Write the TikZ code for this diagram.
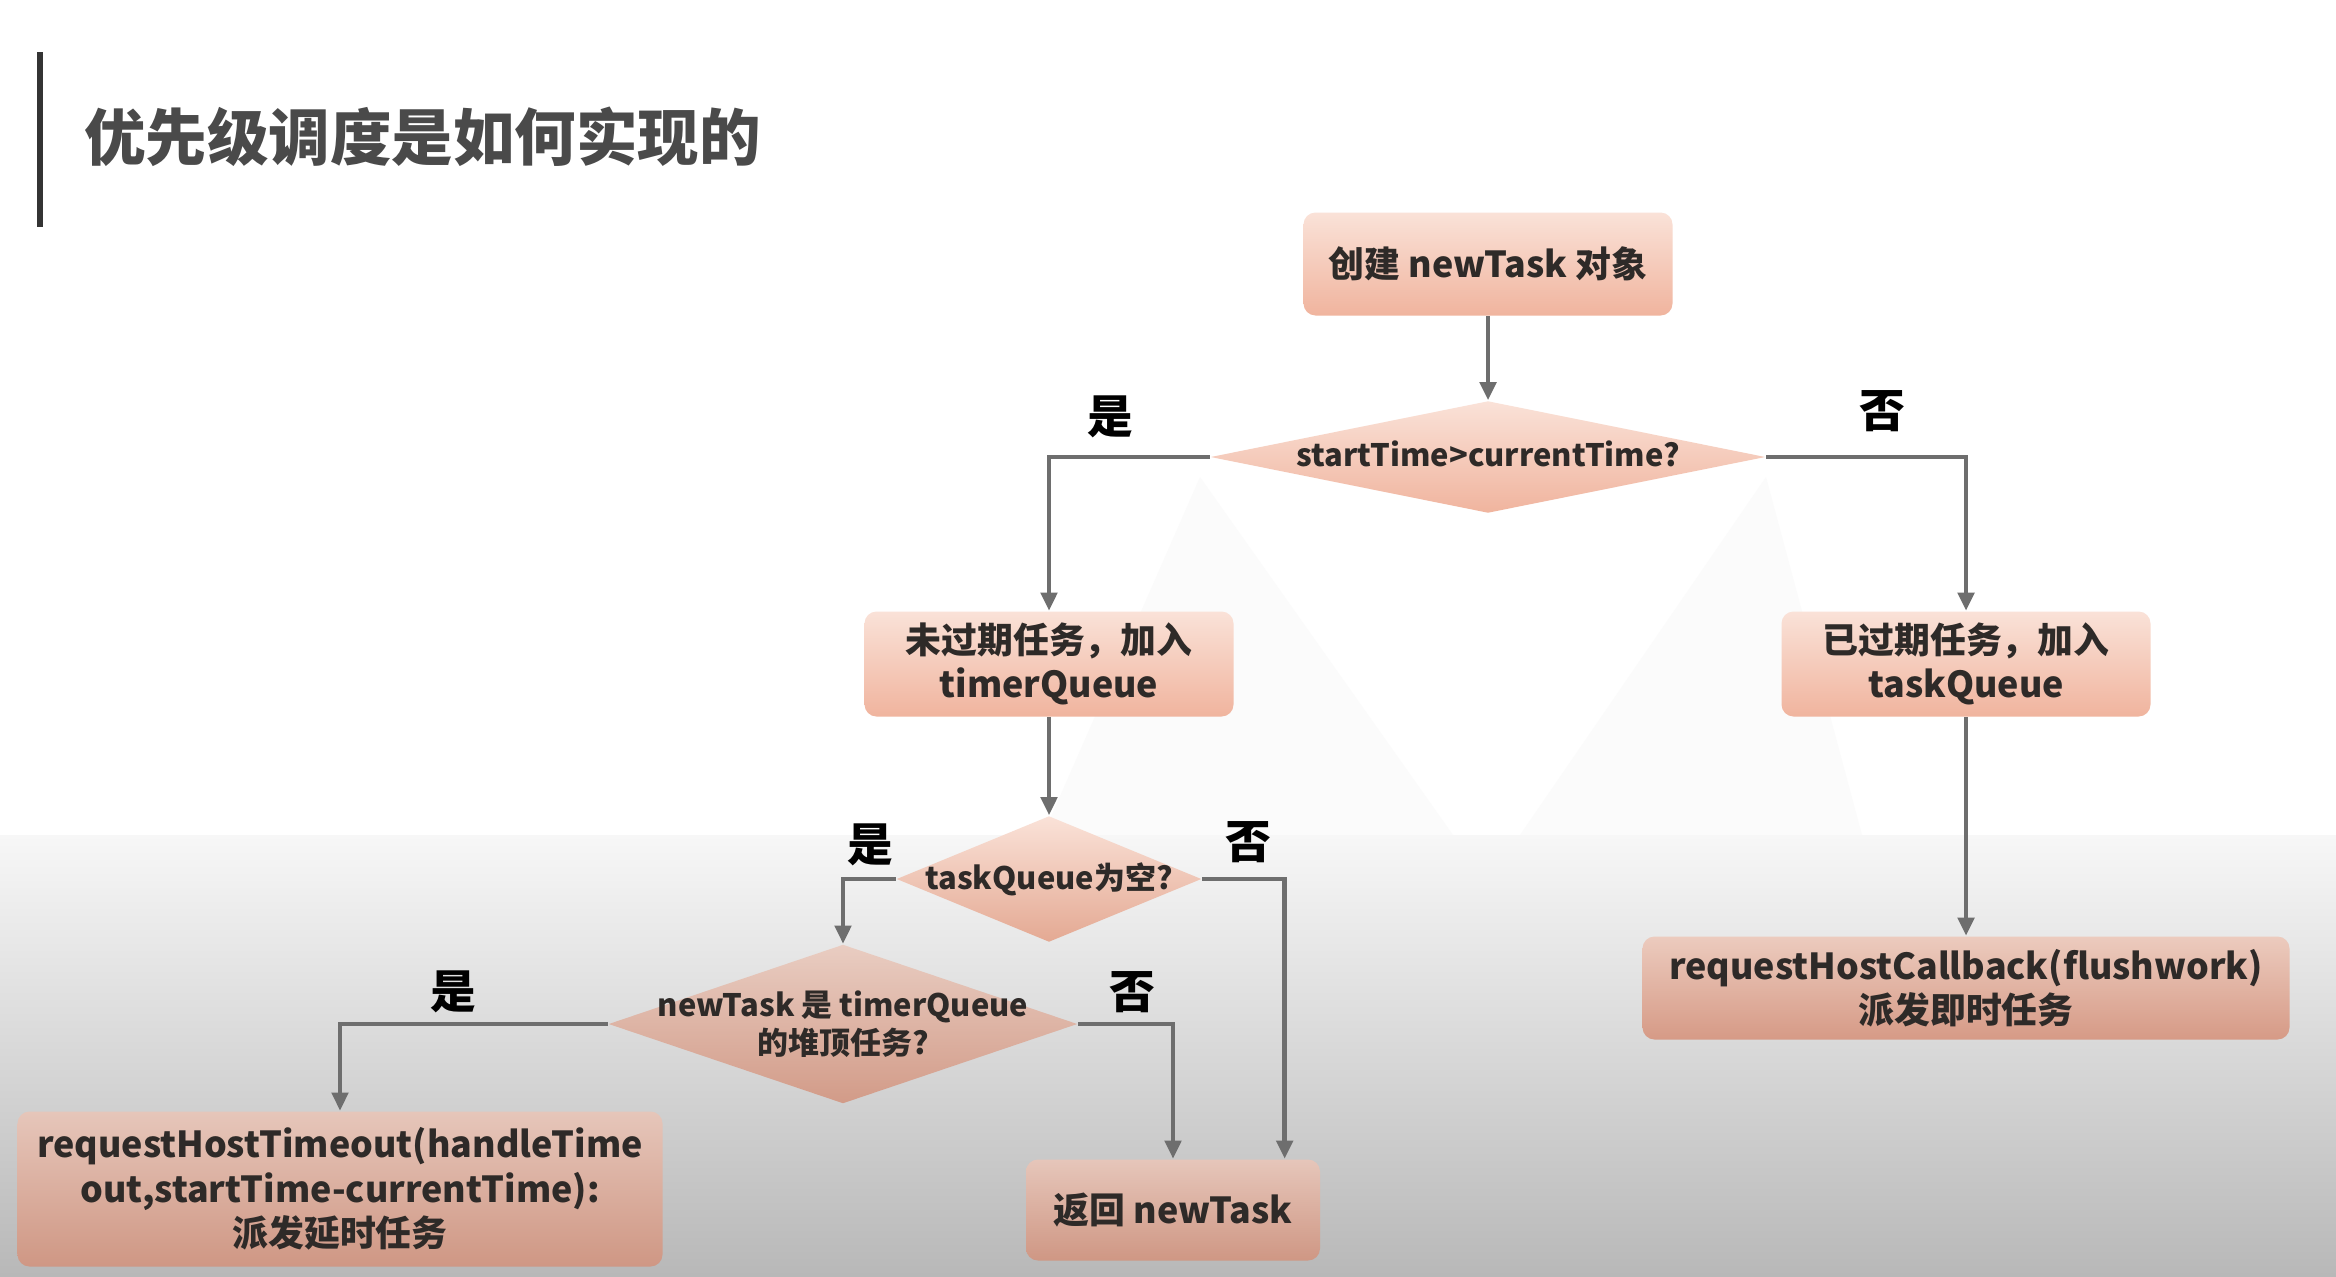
\documentclass[tikz,border=0pt]{standalone}
\usepackage{fontspec}
\setmainfont{Noto Sans CJK SC}
\usetikzlibrary{shapes.geometric,arrows.meta}

\definecolor{boxtop}{HTML}{FAE2D8}
\definecolor{boxbot}{HTML}{F0B49E}
\definecolor{lowtop}{HTML}{E6C6BA}
\definecolor{lowbot}{HTML}{CF9784}
\definecolor{midbot}{HTML}{E4A993}
\definecolor{heaptop}{HTML}{E9CDC2}
\definecolor{heapbot}{HTML}{D29B88}
\definecolor{cbtop}{HTML}{ECCBBE}
\definecolor{cbbot}{HTML}{D69A86}
\definecolor{linegray}{HTML}{6E6E6E}
\definecolor{txtdark}{HTML}{2E2A28}
\definecolor{titlegray}{HTML}{4A4A4A}
\definecolor{bgtop}{HTML}{F7F7F7}
\definecolor{bgbot}{HTML}{B8B8B8}

\begin{document}
\begin{tikzpicture}[
    box/.style={rectangle, rounded corners=0.12cm, top color=boxtop, bottom color=boxbot, align=center, text=txtdark, font=\fontsize{10.2}{12.6}\selectfont\bfseries, inner sep=0pt},
    lowbox/.style={box, top color=lowtop, bottom color=lowbot},
    dia/.style={diamond, top color=boxtop, bottom color=boxbot, inner sep=0pt},
    diatxt/.style={align=center, text=txtdark, inner sep=0pt, font=\fontsize{8.8}{11}\selectfont\bfseries},
    yesno/.style={font=\fontsize{13}{15}\selectfont\bfseries, text=black},
    arr/.style={-{Triangle[width=4.6pt,length=5.2pt]}, draw=linegray, line width=1.3pt}]
    \useasboundingbox (0,0) rectangle (23.36,-12.76);
    % background
    \fill[white] (0,0) rectangle (23.36,-8.35);
    \shade[top color=bgtop, bottom color=bgbot] (0,-8.35) rectangle (23.36,-12.76);
    \fill[black!1.5] (12.00,-4.77) -- (10.43,-8.35) -- (14.53,-8.35) -- cycle;
    \fill[black!1.5] (17.66,-4.77) -- (15.20,-8.35) -- (18.62,-8.35) -- cycle;

    % title
    \draw[line width=1.7pt, titlegray!70!black] (0.40,-0.52) -- (0.40,-2.27);
    \node[anchor=west, font=\fontsize{17.5}{20}\selectfont\bfseries, text=titlegray] (title) at (0.72,-1.37) {优先级调度是如何实现的};

    \node[box, minimum width=3.69cm, minimum height=1.03cm] (create) at (14.88,-2.64) {创建 newTask 对象};
    \node[dia, minimum width=5.55cm, minimum height=1.12cm, label={[diatxt, yshift=1pt]center:startTime>currentTime?}] (cmp) at (14.88,-4.57) {};
    \node[box, minimum width=3.69cm, minimum height=1.05cm] (timer) at (10.49,-6.64) {未过期任务，加入\\timerQueue};
    \node[box, minimum width=3.69cm, minimum height=1.05cm] (task) at (19.66,-6.64) {已过期任务，加入\\taskQueue};
    \node[dia, bottom color=midbot, minimum width=3.05cm, minimum height=1.26cm, label={[diatxt]center:taskQueue为空?}] (empty) at (10.49,-8.79) {};
    \node[dia, top color=heaptop, bottom color=heapbot, minimum width=4.69cm, minimum height=1.59cm, label={[diatxt]center:newTask 是 timerQueue\\的堆顶任务?}] (heap) at (8.43,-10.24) {};
    \node[lowbox, minimum width=2.94cm, minimum height=1.01cm] (ret) at (11.73,-12.10) {返回 newTask};
    \node[lowbox, minimum width=6.45cm, minimum height=1.55cm] (delay) at (3.40,-11.89) {requestHostTimeout(handleTime\\out,startTime-currentTime):\\派发延时任务};
    \node[lowbox, top color=cbtop, bottom color=cbbot, minimum width=6.47cm, minimum height=1.03cm] (callback) at (19.66,-9.88) {requestHostCallback(flushwork)\\派发即时任务};

    \node[yesno] (yes1) at (11.10,-4.17) {是};
    \node[yesno] (no1) at (18.82,-4.11) {否};
    \node[yesno] (yes2) at (8.70,-8.45) {是};
    \node[yesno] (no2) at (12.48,-8.42) {否};
    \node[yesno] (yes3) at (4.53,-9.92) {是};
    \node[yesno] (no3) at (11.32,-9.92) {否};

    \draw[arr] (create) -- (cmp);
    \draw[arr] (cmp.west) -| (timer.north);
    \draw[arr] (cmp.east) -| (task.north);
    \draw[arr] (timer) -- (empty);
    \draw[arr] (task) -- (callback);
    \draw[arr] (empty.west) -| (heap.north);
    \draw[arr] (empty.east) -| ([xshift=-0.36cm]ret.north east);
    \draw[arr] (heap.west) -| (delay.north);
    \draw[arr] (heap.east) -| (ret.north);
\end{tikzpicture}
\end{document}
